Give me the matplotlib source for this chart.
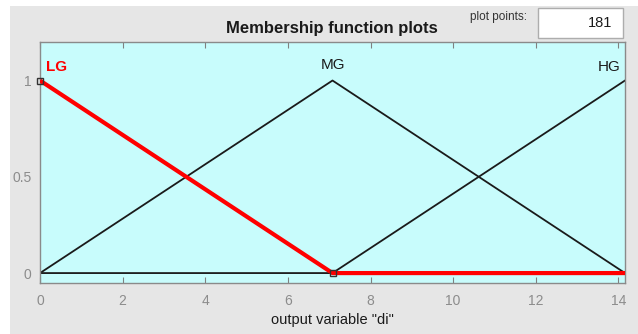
import matplotlib
matplotlib.use("Agg")
import matplotlib.pyplot as plt
from matplotlib.patches import Rectangle

plt.rcParams['font.family'] = ['Liberation Sans', 'DejaVu Sans']

# membership function breakpoints for output variable "di"
x_range = [0, 14.16]
mf_names = ["LG", "MG", "HG"]
lg_x = [0, 7.08, 14.16]
lg_y = [1, 0, 0]
mg_x = [0, 7.08, 14.16]
mg_y = [0, 1, 0]
hg_x = [0, 7.08, 14.16]
hg_y = [0, 0, 1]
x_ticks = [0, 2, 4, 6, 8, 10, 12, 14]
y_ticks = [0, 0.5, 1]
n_points = 181

W, H = 638, 334
fig = plt.figure(figsize=(W / 100, H / 100), dpi=100)
fig.patch.set_facecolor("white")

# gray panel behind everything
fig.patches.append(Rectangle((10 / W, 0), 1 - 10 / W, 1 - 6 / H,
                             transform=fig.transFigure, facecolor="#e6e6e6",
                             edgecolor="none", zorder=-10))

ax = fig.add_axes([40 / W, 1 - 282.7 / H, (625 - 40) / W, (282.7 - 42) / H])
ax.set_facecolor("#c8fcfc")

ax.plot(mg_x, mg_y, color="#1a1a1a", lw=1.3, zorder=2)
ax.plot(hg_x, hg_y, color="#1a1a1a", lw=1.3, zorder=2)
ax.plot(lg_x, lg_y, color="#ff0000", lw=3.0, zorder=3, solid_capstyle="butt")
# selected function vertices
ax.plot([lg_x[0], lg_x[1]], [lg_y[0], lg_y[1]], ls="none", marker="s", ms=5,
        mfc="none", mec="#333333", mew=1.0, zorder=4, clip_on=False)

# function names above their peaks
ax.text(0.15, 1.07, mf_names[0], color="#ff0000", fontsize=11, fontweight="bold",
        ha="left", va="center")
ax.text(mg_x[1], 1.08, mf_names[1], color="#1a1a1a", fontsize=11,
        ha="center", va="center")
ax.text(x_range[1] - 0.12, 1.07, mf_names[2], color="#1a1a1a", fontsize=11,
        ha="right", va="center")

ax.set_xlim(x_range)
ax.set_ylim(-0.05, 1.2)
ax.set_xticks(x_ticks)
ax.set_yticks(y_ticks)
ax.set_yticklabels(["0", "0.5", "1"])
ax.tick_params(axis="x", direction="in", length=4, colors="#808080",
               labelcolor="#8c8c8c", labelsize=10, top=True, pad=8)
ax.tick_params(axis="y", length=0, labelcolor="#8c8c8c", labelsize=10, pad=6)
for s in ax.spines.values():
    s.set_color("#8a8a8a")
    s.set_linewidth(1.0)

ax.set_xlabel('output variable "di"', fontsize=10.5, color="#1a1a1a", labelpad=4)

fig.text(332 / W, 1 - 28 / H, "Membership function plots", fontsize=12,
         fontweight="bold", ha="center", va="center", color="#1a1a1a")

# plot points field
fig.text(527 / W, 1 - 17 / H, "plot points:", fontsize=8.5, ha="right",
         va="center", color="#333333")
fig.patches.append(Rectangle((538 / W, 1 - 38 / H), 85 / W, 30 / H,
                             transform=fig.transFigure, facecolor="white",
                             edgecolor="#adadad", lw=1.0, zorder=1))
fig.text(612 / W, 1 - 23 / H, str(n_points), fontsize=10.5, ha="right",
         va="center", color="#1a1a1a")

fig.savefig("out.png", dpi=100)
